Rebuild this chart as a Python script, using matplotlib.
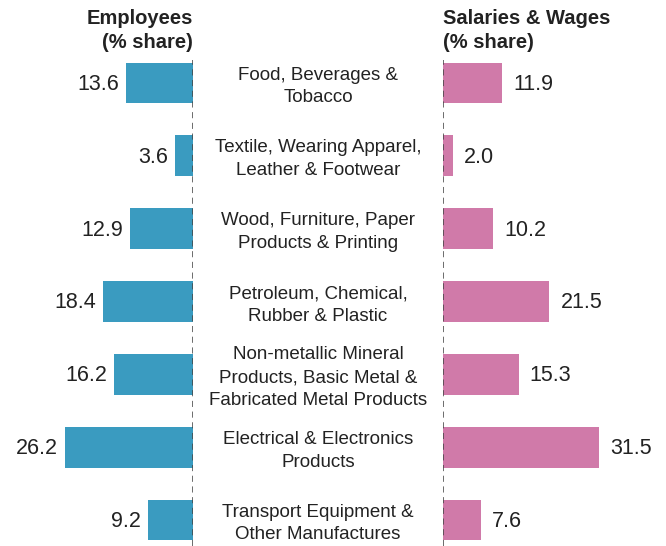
import matplotlib
matplotlib.use("Agg")
import matplotlib.pyplot as plt
import matplotlib.transforms as mtransforms

# данные
categories = [
    "Food, Beverages &\nTobacco",
    "Textile, Wearing Apparel,\nLeather & Footwear",
    "Wood, Furniture, Paper\nProducts & Printing",
    "Petroleum, Chemical,\nRubber & Plastic",
    "Non-metallic Mineral\nProducts, Basic Metal &\nFabricated Metal Products",
    "Electrical & Electronics\nProducts",
    "Transport Equipment &\nOther Manufactures",
]
employees = [13.6, 3.6, 12.9, 18.4, 16.2, 26.2, 9.2]
salaries = [11.9, 2.0, 10.2, 21.5, 15.3, 31.5, 7.6]

blue = "#3a9bc0"
pink = "#d07aa9"
text_color = "#222222"

plt.rcParams["font.family"] = ["Liberation Sans", "DejaVu Sans"]

W, H = 666, 546
fig = plt.figure(figsize=(W / 100, H / 100), dpi=100)

top_px = 60
ax_h = (H - top_px) / H
left_zero = 193
right_zero = 443
scale_l = 4.89
scale_r = 4.95

ax_l = fig.add_axes([0, 0, left_zero / W, ax_h])
ax_r = fig.add_axes([right_zero / W, 0, (W - right_zero) / W, ax_h])

y = list(range(len(categories)))
ylim = (6.357, -0.316)

ax_l.barh(y, employees, height=0.56, color=blue)
ax_l.set_xlim(left_zero / scale_l, 0)
ax_r.barh(y, salaries, height=0.56, color=pink)
ax_r.set_xlim(0, (W - right_zero) / scale_r)

for ax in (ax_l, ax_r):
    ax.set_ylim(*ylim)
    ax.axvline(0, color="#444444", linestyle=(0, (4, 3)), linewidth=1.1)
    ax.axis("off")

for yi, v in zip(y, employees):
    ax_l.annotate(f"{v:.1f}", (v, yi), xytext=(-5, -1), textcoords="offset points",
                  ha="right", va="center", fontsize=15.5, color=text_color)
for yi, v in zip(y, salaries):
    ax_r.annotate(f"{v:.1f}", (v, yi), xytext=(8, -1), textcoords="offset points",
                  ha="left", va="center", fontsize=15.5, color=text_color)

# подписи категорий по центру
trans = mtransforms.blended_transform_factory(fig.transFigure, ax_l.transData)
mid = (left_zero + right_zero) / 2 / W
for yi, c in zip(y, categories):
    ax_l.annotate(c, (mid, yi), xycoords=trans, xytext=(0, -2.5), textcoords="offset points",
                  ha="center", va="center", fontsize=13.5, color=text_color,
                  linespacing=1.45, annotation_clip=False)

# заголовки
fig.text(left_zero / W, 1 - 9 / H, "Employees\n(% share)", ha="right", va="top",
         fontsize=14.5, fontweight="bold", color=text_color, linespacing=1.3)
fig.text(right_zero / W, 1 - 9 / H, "Salaries & Wages\n(% share)", ha="left", va="top",
         fontsize=14.5, fontweight="bold", color=text_color, linespacing=1.3)

fig.savefig("out.png", dpi=100)
